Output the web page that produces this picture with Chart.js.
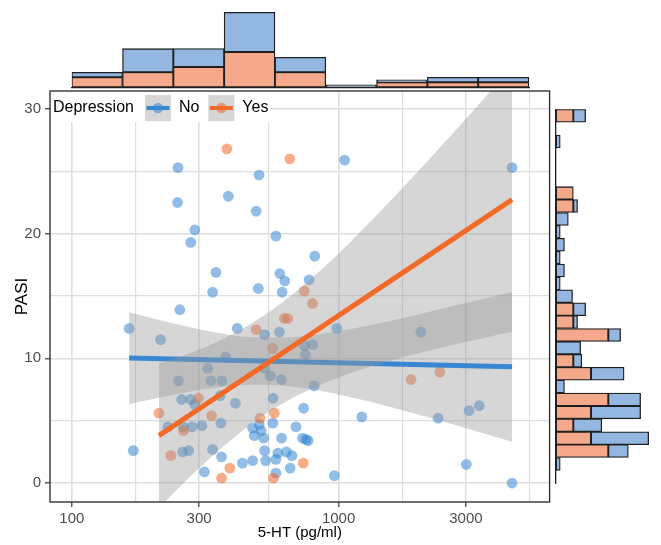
<!DOCTYPE html>
<html>
<head>
<meta charset="utf-8">
<script src="https://cdn.jsdelivr.net/npm/chart.js@4.4.1/dist/chart.umd.min.js"></script>
<style>
  html, body { margin: 0; padding: 0; background: #fff; }
  #wrap { position: relative; width: 661px; height: 545px; }
  canvas { position: absolute; }
  #main { left: 0; top: 0; }
  #top { left: 0; top: 0; }
  #right { left: 553px; top: 0; }
</style>
</head>
<body>
<div id="wrap">
  <canvas id="main" width="555" height="545"></canvas>
  <canvas id="top" width="555" height="90"></canvas>
  <canvas id="right" width="108" height="545"></canvas>
</div>
<script>
// scatter data: 5-HT (pg/ml) and PASI per group
const noHT = [164, 170, 215, 229, 249, 250, 254, 251, 258, 260, 262, 274, 279, 279, 282, 289, 289, 307, 314, 323,
  332, 337, 337, 347, 360, 362, 364, 365, 377, 386, 410, 417, 436, 476, 476, 483, 491, 500, 503, 504,
  512, 524, 528, 528, 528, 533, 555, 567, 568, 582, 582, 582, 592, 600, 602, 610, 611, 614, 628, 637,
  658, 668, 692, 732, 739, 745, 751, 755, 768, 775, 800, 809, 814, 964, 985, 1053, 1222, 2035, 2361, 3011,
  3082, 3367, 4470, 4470];
const noPASI = [12.4, 2.6, 11.5, 4.5, 22.5, 25.3, 13.9, 8.2, 6.7, 2.5, 4.5, 2.6, 6.7, 19.3, 4.5, 6.3, 20.3, 4.6, 0.9, 9.2,
  8.2, 15.3, 2.7, 16.9, 7.0, 4.8, 2.1, 8.2, 10.1, 23.0, 6.4, 12.4, 1.6, 4.4, 1.8, 3.8, 21.8, 15.6, 24.7, 4.7,
  4.2, 3.6, 11.9, 9.2, 2.6, 1.8, 8.6, 4.8, 6.8, 19.8, 1.9, 0.8, 2.4, 12.1, 16.8, 8.3, 3.6, 15.3, 16.2, 2.5,
  1.2, 2.2, 4.5, 3.6, 6.0, 11.0, 10.3, 3.5, 3.4, 16.3, 11.1, 7.8, 18.2, 0.6, 12.4, 25.9, 5.3, 12.1, 5.2, 1.5,
  5.8, 6.2, 25.3, 0.0];
const yesHT = [212, 235, 262, 298, 334, 364, 381, 391, 491, 507, 566, 570, 574, 626, 645, 656, 737, 743, 798, 1868, 2396];
const yesPASI = [5.6, 2.2, 4.2, 6.8, 5.4, 0.4, 26.8, 1.2, 12.3, 5.2, 10.8, 0.4, 5.6, 13.2, 13.2, 26.0, 1.6, 15.4, 14.4, 8.3, 8.9];

// linear fits (log x) and their confidence bands
const noFitHT = [164, 4470];
const noFitPASI = [10.02, 9.33];
const yesFitHT = [212, 4470];
const yesFitPASI = [3.80, 22.73];
const noBandHT = [164, 232, 327, 461, 651, 918, 1294, 1988, 3056, 4470];
const noBandUpper = [13.70, 12.87, 12.18, 11.72, 11.69, 12.05, 12.63, 13.51, 14.47, 15.35];
const noBandLower = [6.34, 7.03, 7.58, 7.88, 7.77, 7.27, 6.55, 5.49, 4.35, 3.31];
const yesBandHT = [212, 276, 357, 461, 597, 773, 1090, 1674, 2573, 3628, 4470];
const yesBandUpper = [9.58, 10.41, 11.42, 12.68, 14.28, 16.22, 19.20, 23.31, 27.64, 31.18, 33.33];
const yesBandLower = [-1.98, 0.47, 2.66, 4.60, 6.20, 7.46, 8.76, 9.99, 11.00, 11.72, 12.13];

// ticks
const xMajor = [100, 300, 1000, 3000];
const xMinor = [173.2, 547.7, 1732, 5196];
const yMajor = [0, 10, 20, 30];
const yMinor = [5, 15, 25];

// marginal histograms (% of group per bin)
const topBins = ['100-155', '155-240', '240-371', '371-574', '574-887', '887-1371', '1371-2121', '2121-3281', '3281-5071'];
const topYes = [9.1, 13.6, 18.2, 31.8, 13.6, 0, 4.5, 4.5, 4.5];
const topNo = [4.4, 21.1, 16.7, 35.6, 13.3, 2.2, 2.2, 4.4, 4.4];
const rightBins = [26.8, 25.8, 24.9, 23.9, 23.0, 22.0, 21.0, 20.1, 19.1, 18.2, 17.2, 16.3, 15.3, 14.3, 13.4,
  12.4, 11.5, 10.5, 9.6, 8.6, 7.6, 6.7, 5.7, 4.8, 3.8, 2.9, 1.9, 1.0, 0.0];
const rightYes = [4.5, 0, 0, 0, 0, 0, 4.5, 4.5, 0, 0, 0, 0, 0, 0, 0, 4.5, 4.5, 13.6, 0, 4.5, 9.1, 0, 13.6, 9.1, 4.5, 9.1, 13.6, 0, 0];
const rightNo = [3.2, 0, 1.1, 0, 0, 0, 0, 1.1, 3.2, 1.1, 2.2, 1.1, 2.2, 1.1, 4.3, 3.2, 1.1, 3.2, 6.4, 2.2, 8.6, 2.2, 8.4, 12.9, 7.4, 15.0, 5.2, 1.1, 0];

const FONT = "'Liberation Sans', Arial, Helvetica, sans-serif";
const BLUE = 'rgb(55,135,210)';
const BLUE_PT = 'rgba(55,135,210,0.55)';
const ORANGE = 'rgb(242,105,40)';
const ORANGE_PT = 'rgba(242,105,40,0.55)';
const BAND = 'rgba(153,153,153,0.4)';
const BLUE_FILL = 'rgb(147,183,224)';
const ORANGE_FILL = 'rgb(245,169,138)';
const EDGE = '#1f1f1f';
const GRID = '#dedede';

Chart.defaults.font.family = FONT;

const pts = (xs, ys) => xs.map((x, i) => ({ x, y: ys[i] }));

function band(xs, ys, fill, order) {
    return {
        data: pts(xs, ys), borderColor: 'transparent', borderWidth: 0, pointRadius: 0,
        fill, backgroundColor: BAND, cubicInterpolationMode: 'monotone', order, clip: 0
    };
}

function fitLine(xs, ys, color, order) {
    return { data: pts(xs, ys), borderColor: color, borderWidth: 5, borderCapStyle: 'butt', pointRadius: 0, fill: false, order, clip: 0 };
}

function scatter(xs, ys, color, order) {
    return { data: pts(xs, ys), showLine: false, pointRadius: 5.4, pointBorderWidth: 0, pointBorderColor: 'transparent', pointBackgroundColor: color, order };
}

function isMajor(ctx, list) {
    return !!ctx.tick && list.includes(ctx.tick.value);
}

// legend inside the panel and the panel border
const panelDecor = {
    id: 'panelDecor',
    afterDraw(chart) {
        const { ctx, chartArea: a } = chart;
        ctx.save();
        ctx.fillStyle = '#fff';
        ctx.fillRect(a.left + 1, a.top + 1, 219, 30);

        ctx.font = '16px ' + FONT;
        ctx.fillStyle = '#000';
        ctx.textBaseline = 'middle';
        const cy = a.top + 17;
        ctx.fillText('Depression', a.left + 3, cy);

        [[95, BLUE, BLUE_PT, 'No'], [158.3, ORANGE, ORANGE_PT, 'Yes']].forEach(([kx, line, pt, label]) => {
            const x0 = a.left + kx;
            ctx.fillStyle = '#d6d6d6';
            ctx.fillRect(x0, a.top + 4, 26, 26);
            ctx.fillStyle = pt;
            ctx.beginPath();
            ctx.arc(x0 + 13, cy, 5.3, 0, Math.PI * 2);
            ctx.fill();
            ctx.strokeStyle = line;
            ctx.lineWidth = 4;
            ctx.beginPath();
            ctx.moveTo(x0 + 1.5, cy);
            ctx.lineTo(x0 + 24.5, cy);
            ctx.stroke();
            ctx.fillStyle = '#000';
            ctx.fillText(label, x0 + 34, cy);
        });

        ctx.strokeStyle = '#333';
        ctx.lineWidth = 1.4;
        ctx.strokeRect(a.left, a.top, a.right - a.left, a.bottom - a.top);
        ctx.restore();
    }
};

new Chart(document.getElementById('main'), {
    type: 'line',
    data: {
        datasets: [
            band(noBandHT, noBandUpper, false, 8),
            band(noBandHT, noBandLower, '-1', 8),
            fitLine(noFitHT, noFitPASI, BLUE, 7),
            band(yesBandHT, yesBandUpper, false, 6),
            band(yesBandHT, yesBandLower, '-1', 6),
            fitLine(yesFitHT, yesFitPASI, ORANGE, 5),
            scatter(noHT, noPASI, BLUE_PT, 10),
            scatter(yesHT, yesPASI, ORANGE_PT, 9)
        ]
    },
    options: {
        responsive: false,
        animation: false,
        devicePixelRatio: 1,
        events: [],
        layout: { padding: { top: 91, right: 2, bottom: 0, left: 0 } },
        plugins: { legend: { display: false }, tooltip: { enabled: false } },
        scales: {
            x: {
                type: 'logarithmic',
                min: 82.8,
                max: 6180,
                afterBuildTicks: s => { s.ticks = [...xMajor, ...xMinor].sort((p, q) => p - q).map(v => ({ value: v })); },
                afterFit: s => { s.height = 43; },
                ticks: {
                    autoSkip: false, maxRotation: 0, padding: 3, color: '#4d4d4d',
                    font: { size: 15 },
                    callback: v => xMajor.includes(v) ? String(v) : ''
                },
                grid: {
                    color: GRID,
                    lineWidth: ctx => isMajor(ctx, xMajor) ? 1.6 : 1.2,
                    tickLength: 5,
                    tickWidth: 1.2,
                    tickColor: ctx => isMajor(ctx, xMajor) ? '#333' : 'transparent'
                },
                border: { display: false },
                title: { display: true, text: '5-HT (pg/ml)', color: '#000', font: { size: 15 }, padding: { top: 0, bottom: 3 } }
            },
            y: {
                type: 'linear',
                min: -1.52,
                max: 31.44,
                afterBuildTicks: s => { s.ticks = [...yMajor, ...yMinor].sort((p, q) => p - q).map(v => ({ value: v })); },
                afterFit: s => { s.width = 50; },
                ticks: {
                    padding: 4, color: '#4d4d4d',
                    font: { size: 15 },
                    callback: v => yMajor.includes(v) ? String(v) : ''
                },
                grid: {
                    color: GRID,
                    lineWidth: ctx => isMajor(ctx, yMajor) ? 1.6 : 1.2,
                    tickLength: 5,
                    tickWidth: 1.2,
                    tickColor: ctx => isMajor(ctx, yMajor) ? '#333' : 'transparent'
                },
                border: { display: false },
                title: { display: true, text: 'PASI', color: '#000', font: { size: 17 }, padding: { top: 12, bottom: 0 } }
            }
        }
    },
    plugins: [panelDecor]
});

function histSet(data, fill) {
    return { data, backgroundColor: fill, borderColor: EDGE, borderWidth: 1.3, borderSkipped: false, barPercentage: 1, categoryPercentage: 1 };
}

new Chart(document.getElementById('top'), {
    type: 'bar',
    data: { labels: topBins, datasets: [histSet(topYes, ORANGE_FILL), histSet(topNo, BLUE_FILL)] },
    options: {
        responsive: false, animation: false, devicePixelRatio: 1, events: [],
        layout: { padding: { left: 71.7, right: 26, top: 9.4, bottom: 2.7 } },
        plugins: { legend: { display: false }, tooltip: { enabled: false } },
        scales: {
            x: {
                stacked: true,
                ticks: { display: false },
                grid: { display: false, drawTicks: false },
                border: { display: true, color: EDGE, width: 1.3 },
                afterFit: s => { s.height = 0; }
            },
            y: { stacked: true, display: false, min: 0, max: 70 }
        }
    }
});

new Chart(document.getElementById('right'), {
    type: 'bar',
    data: { labels: rightBins.map(String), datasets: [histSet(rightYes, ORANGE_FILL), histSet(rightNo, BLUE_FILL)] },
    options: {
        indexAxis: 'y',
        responsive: false, animation: false, devicePixelRatio: 1, events: [],
        layout: { padding: { left: 3, right: 5, top: 109.3, bottom: 61.7 } },
        plugins: { legend: { display: false }, tooltip: { enabled: false } },
        scales: {
            y: {
                stacked: true,
                ticks: { display: false },
                grid: { display: false, drawTicks: false },
                border: { display: true, color: EDGE, width: 1.3 },
                afterFit: s => { s.width = 0; }
            },
            x: { stacked: true, display: false, min: 0, max: 26 }
        }
    }
});
</script>
</body>
</html>
